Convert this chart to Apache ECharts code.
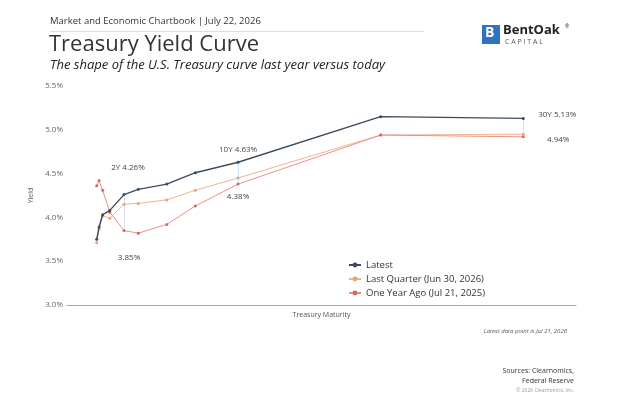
<!DOCTYPE html>
<html>
<head>
<meta charset="utf-8">
<script src="https://cdn.jsdelivr.net/npm/echarts@6/dist/echarts.min.js"></script>
<style>
  html, body { margin: 0; padding: 0; background: #fff; }
  #main { width: 624px; height: 402px; }
</style>
</head>
<body>
<div id="main"></div>
<script>
// maturities in years (1M, 3M, 6M, 1Y, 2Y, 3Y, 5Y, 7Y, 10Y, 20Y, 30Y)
var maturities = [1 / 12, 0.25, 0.5, 1, 2, 3, 5, 7, 10, 20, 30];
var latest = [3.75, 3.89, 4.03, 4.08, 4.26, 4.32, 4.38, 4.51, 4.63, 5.15, 5.13];
var lastQuarter = [3.71, 3.87, 4.02, 3.99, 4.15, 4.16, 4.20, 4.31, 4.45, 4.94, 4.95];
var yearAgo = [4.36, 4.42, 4.31, 4.06, 3.85, 3.82, 3.92, 4.13, 4.38, 4.94, 4.92];
var yTicks = [3.0, 3.5, 4.0, 4.5, 5.0, 5.5];

// labelled points: index into maturities -> text
var latestLabels = { 4: '2Y 4.26%', 8: '10Y 4.63%', 10: '30Y 5.13%' };
var yearAgoLabels = { 4: '3.85%', 8: '4.38%', 10: '4.94%' };
var latestOffsets = { 4: [4, -27], 8: [0, -12], 10: [34, -4] };
var yearAgoOffsets = { 4: [5, 27], 8: [0, 13], 10: [35, 3] };

var FONT = '"Open Sans", sans-serif';

function build(values, labels, offsets) {
  return values.map(function (v, i) {
    var item = { value: [maturities[i], v] };
    if (labels && labels[i]) {
      item.label = {
        show: true, position: 'inside', offset: offsets[i],
        formatter: labels[i], color: '#444', fontSize: 8, fontFamily: FONT
      };
    }
    return item;
  });
}

var connectors = [4, 8, 10].map(function (i) {
  return [{ coord: [maturities[i], latest[i]] }, { coord: [maturities[i], yearAgo[i]] }];
});

var myChart = echarts.init(document.getElementById('main'));
myChart.setOption({
  animation: false,
  textStyle: { fontFamily: FONT },
  grid: { left: 67, right: 48, top: 86, bottom: 97 },
  legend: {
    orient: 'vertical', left: 343, top: 255,
    itemWidth: 12, itemHeight: 6, itemGap: 4,
    textStyle: { fontSize: 9.5, color: '#333', fontFamily: FONT },
    data: ['Latest', 'Last Quarter (Jun 30, 2026)', 'One Year Ago (Jul 21, 2025)']
  },
  xAxis: {
    type: 'value', min: -2, max: 33.7,
    name: 'Treasury Maturity', nameLocation: 'middle', nameGap: 6,
    nameTextStyle: { fontSize: 7, color: '#555' },
    axisLine: { show: true, lineStyle: { color: '#aaa', width: 1 } },
    axisTick: { show: false }, axisLabel: { show: false }, splitLine: { show: false }
  },
  yAxis: {
    type: 'value', min: yTicks[0], max: yTicks[yTicks.length - 1], interval: 0.5,
    name: 'Yield', nameLocation: 'middle', nameGap: 20, nameRotate: 90,
    nameTextStyle: { fontSize: 7, color: '#555' },
    axisLine: { show: false }, axisTick: { show: false }, splitLine: { show: false },
    axisLabel: {
      fontSize: 8, color: '#666', margin: 4,
      formatter: function (v) { return v.toFixed(1) + '%'; }
    }
  },
  series: [{
    name: 'Latest', type: 'line', z: 5,
    data: build(latest, latestLabels, latestOffsets),
    symbol: 'circle', symbolSize: 3,
    lineStyle: { color: '#3b4c5e', width: 1.4 },
    itemStyle: { color: '#3b4c5e' },
    markLine: {
      silent: true, symbol: 'none', label: { show: false },
      lineStyle: { type: 'dotted', color: '#aac2d6', width: 1 },
      data: connectors
    }
  }, {
    name: 'Last Quarter (Jun 30, 2026)', type: 'line', z: 3,
    data: build(lastQuarter),
    symbol: 'circle', symbolSize: 3,
    lineStyle: { color: '#f3b48a', width: 1 },
    itemStyle: { color: '#eea070' }
  }, {
    name: 'One Year Ago (Jul 21, 2025)', type: 'line', z: 4,
    data: build(yearAgo, yearAgoLabels, yearAgoOffsets),
    symbol: 'circle', symbolSize: 3,
    lineStyle: { color: '#eb8f88', width: 1 },
    itemStyle: { color: '#d9625c' }
  }],
  graphic: [
    { type: 'text', left: 50, top: 16, style: { text: 'Market and Economic Chartbook | July 22, 2026', fontSize: 9.5, fill: '#333', fontFamily: FONT } },
    { type: 'rect', shape: { x: 50, y: 31, width: 374, height: 1 }, style: { fill: '#ddd' } },
    { type: 'text', left: 49, top: 34, style: { text: 'Treasury Yield Curve', fontSize: 22, fill: '#333', fontFamily: FONT } },
    { type: 'text', left: 50, top: 59, style: { text: 'The shape of the U.S. Treasury curve last year versus today', fontSize: 13, fontStyle: 'italic', fill: '#222', fontFamily: FONT } },
    // logo
    { type: 'rect', shape: { x: 482, y: 25, width: 18, height: 19 }, style: { fill: '#2f73c0' } },
    { type: 'text', left: 485, top: 26, style: { text: 'B', fontSize: 14, fontWeight: 'bold', fill: '#fff', fontFamily: FONT } },
    { type: 'text', left: 503, top: 24, style: { text: 'BentOak', fontSize: 13, fontWeight: 'bold', fill: '#222', fontFamily: FONT } },
    { type: 'text', left: 565, top: 24, style: { text: '®', fontSize: 5, fill: '#222', fontFamily: FONT } },
    { type: 'text', left: 505, top: 38, style: { text: 'C A P I T A L', fontSize: 7, fill: '#555', fontFamily: FONT } },
    // footer
    { type: 'text', right: 57, top: 328, style: { text: 'Latest data point is Jul 21, 2026', fontSize: 6, fontStyle: 'italic', fill: '#555', fontFamily: FONT } },
    { type: 'text', right: 50, top: 367, style: { text: 'Sources: Clearnomics,', fontSize: 7, fill: '#333', fontFamily: FONT } },
    { type: 'text', right: 50, top: 377, style: { text: 'Federal Reserve', fontSize: 7, fill: '#333', fontFamily: FONT } },
    { type: 'text', right: 50, top: 388, style: { text: '© 2026 Clearnomics, Inc.', fontSize: 5, fill: '#999', fontFamily: FONT } }
  ]
});
</script>
</body>
</html>
